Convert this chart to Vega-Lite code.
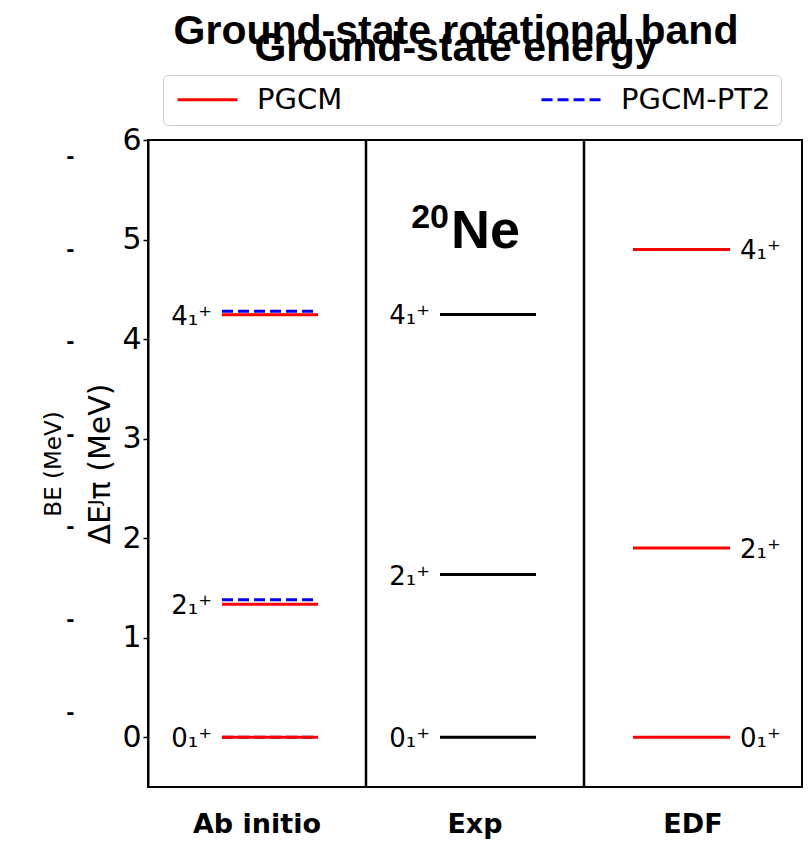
{
  "$schema": "https://vega.github.io/schema/vega-lite/v6.json",
  "width": 654,
  "height": 647,
  "autosize": {"type": "none"},
  "padding": {"left": 148, "top": 140, "right": 6, "bottom": 55},
  "background": "white",
  "config": {
    "view": {"stroke": "black", "strokeWidth": 2},
    "font": "DejaVu Sans"
  },
  "title": {
    "text": "Ground-state rotational band",
    "subtitle": "Ground-state energy",
    "font": "Liberation Sans",
    "fontSize": 41,
    "fontWeight": "bold",
    "color": "black",
    "subtitleFont": "Liberation Sans",
    "subtitleFontSize": 41,
    "subtitleFontWeight": "bold",
    "subtitleColor": "black",
    "subtitlePadding": -24,
    "anchor": "middle",
    "dx": -19,
    "offset": 5
  },
  "datasets": {
    "levels": [
      {"panel": "Ab initio", "method": "PGCM-PT2", "state": "0₁⁺", "energy": 0},
      {"panel": "Ab initio", "method": "PGCM-PT2", "state": "2₁⁺", "energy": 1.38},
      {"panel": "Ab initio", "method": "PGCM-PT2", "state": "4₁⁺", "energy": 4.28},
      {"panel": "Ab initio", "method": "PGCM", "state": "0₁⁺", "energy": 0},
      {"panel": "Ab initio", "method": "PGCM", "state": "2₁⁺", "energy": 1.335},
      {"panel": "Ab initio", "method": "PGCM", "state": "4₁⁺", "energy": 4.245},
      {"panel": "Exp", "method": "Exp", "state": "0₁⁺", "energy": 0},
      {"panel": "Exp", "method": "Exp", "state": "2₁⁺", "energy": 1.634},
      {"panel": "Exp", "method": "Exp", "state": "4₁⁺", "energy": 4.248},
      {"panel": "EDF", "method": "PGCM", "state": "0₁⁺", "energy": 0},
      {"panel": "EDF", "method": "PGCM", "state": "2₁⁺", "energy": 1.9},
      {"panel": "EDF", "method": "PGCM", "state": "4₁⁺", "energy": 4.9}
    ],
    "dividers": [
      {"panel": "Exp"},
      {"panel": "EDF"}
    ]
  },
  "resolve": {"scale": {"y": "independent"}, "axis": {"y": "independent"}},
  "layer": [
    {
      "description": "Binding-energy axis (labels only)",
      "mark": {"type": "point", "opacity": 0},
      "encoding": {
        "y": {
          "datum": 0,
          "type": "quantitative",
          "scale": {"domain": [-0.81, 6.18], "nice": false, "zero": false},
          "axis": {
            "orient": "left",
            "offset": 74,
            "title": "BE (MeV)",
            "titleFont": "DejaVu Sans",
            "titleFontSize": 23,
            "titleFontWeight": "normal",
            "titleColor": "black",
            "titlePadding": 0,
            "titleAnchor": "middle",
            "values": [0, 1, 2, 3, 4, 5, 6],
            "labelExpr": "'-'",
            "labelFontSize": 20,
            "labelFontWeight": "bold",
            "labelColor": "black",
            "labelPadding": 0,
            "ticks": false,
            "domain": false,
            "grid": false
          }
        }
      }
    },
    {
      "encoding": {
        "x": {
          "field": "panel",
          "type": "nominal",
          "sort": ["Ab initio", "Exp", "EDF"],
          "scale": {"type": "band", "domain": ["Ab initio", "Exp", "EDF"], "paddingInner": 0, "paddingOuter": 0},
          "axis": {
            "title": null,
            "ticks": false,
            "domain": false,
            "grid": false,
            "labelAngle": 0,
            "labelFont": "DejaVu Sans",
            "labelFontWeight": "bold",
            "labelFontSize": 27,
            "labelColor": "black",
            "labelPadding": 24
          }
        }
      },
      "layer": [
        {
          "data": {"name": "dividers"},
          "mark": {"type": "rule", "color": "black", "strokeWidth": 2.5},
          "encoding": {
            "x": {"field": "panel", "type": "nominal", "bandPosition": 0}
          }
        },
        {
          "data": {"name": "levels"},
          "transform": [{"filter": "datum.panel !== 'EDF'"}],
          "mark": {"type": "rule", "strokeWidth": 3, "xOffset": -35, "x2Offset": 61},
          "encoding": {
            "x2": {"field": "panel"},
            "y": {
              "field": "energy",
              "type": "quantitative",
              "scale": {"domain": [-0.5, 6], "nice": false, "zero": false},
              "axis": {
                "orient": "left",
                "title": "ΔEᴶπ (MeV)",
                "titleFont": "DejaVu Sans",
                "titleFontSize": 30,
                "titleFontWeight": "normal",
                "titleColor": "black",
                "titlePadding": 6,
                "values": [0, 1, 2, 3, 4, 5, 6],
                "format": "d",
                "grid": false,
                "domainColor": "black",
                "domainWidth": 2,
                "tickColor": "black",
                "tickSize": 5,
                "tickWidth": 1.5,
                "labelFontSize": 30,
                "labelColor": "black",
                "labelPadding": 2
              }
            },
            "color": {
              "field": "method",
              "type": "nominal",
              "scale": {"domain": ["PGCM", "PGCM-PT2", "Exp"], "range": ["#ff0000", "#0000ff", "#000000"]},
              "legend": {
                "title": null,
                "orient": "none",
                "legendX": 15,
                "legendY": -65,
                "direction": "horizontal",
                "columns": 2,
                "columnPadding": 192,
                "values": ["PGCM", "PGCM-PT2"],
                "symbolType": "M-3,0H3",
                "symbolSize": 400,
                "symbolOffset": 20,
                "symbolStrokeWidth": 3,
                "labelFont": "DejaVu Sans",
                "labelFontSize": 29,
                "labelColor": "black",
                "labelOffset": 35,
                "strokeColor": "#cccccc",
                "cornerRadius": 5,
                "padding": 10,
                "fillColor": "white"
              }
            },
            "strokeDash": {
              "field": "method",
              "type": "nominal",
              "scale": {"domain": ["PGCM", "PGCM-PT2", "Exp"], "range": [[1, 0], [11, 5], [1, 0]]},
              "legend": {
                "title": null,
                "orient": "none",
                "legendX": 15,
                "legendY": -65,
                "direction": "horizontal",
                "columns": 2,
                "columnPadding": 192,
                "values": ["PGCM", "PGCM-PT2"],
                "symbolType": "M-3,0H3",
                "symbolSize": 400,
                "symbolOffset": 20,
                "symbolStrokeWidth": 3,
                "labelFont": "DejaVu Sans",
                "labelFontSize": 29,
                "labelColor": "black",
                "labelOffset": 35,
                "strokeColor": "#cccccc",
                "cornerRadius": 5,
                "padding": 10,
                "fillColor": "white"
              }
            }
          }
        },
        {
          "data": {"name": "levels"},
          "transform": [{"filter": "datum.panel === 'EDF'"}],
          "mark": {"type": "rule", "strokeWidth": 3, "xOffset": -60, "x2Offset": 37},
          "encoding": {
            "x2": {"field": "panel"},
            "y": {"field": "energy", "type": "quantitative"},
            "color": {"field": "method", "type": "nominal"},
            "strokeDash": {"field": "method", "type": "nominal"}
          }
        },
        {
          "data": {"name": "levels"},
          "transform": [{"filter": "datum.panel !== 'EDF' && datum.method !== 'PGCM-PT2'"}],
          "mark": {"type": "text", "align": "right", "baseline": "middle", "dx": -45, "dy": 2, "fontSize": 26, "font": "DejaVu Sans", "color": "black"},
          "encoding": {
            "y": {"field": "energy", "type": "quantitative"},
            "text": {"field": "state"}
          }
        },
        {
          "data": {"name": "levels"},
          "transform": [{"filter": "datum.panel === 'EDF'"}],
          "mark": {"type": "text", "align": "left", "baseline": "middle", "dx": 47, "dy": 2, "fontSize": 26, "font": "DejaVu Sans", "color": "black"},
          "encoding": {
            "y": {"field": "energy", "type": "quantitative"},
            "text": {"field": "state"}
          }
        },
        {
          "data": {"values": [{}]},
          "mark": {"type": "text", "text": "20", "align": "right", "baseline": "alphabetic", "dx": -26, "dy": -20, "font": "Liberation Sans", "fontWeight": "bold", "fontSize": 34, "color": "black"},
          "encoding": {
            "x": {"datum": "Exp"},
            "y": {"datum": 4.915, "type": "quantitative"}
          }
        },
        {
          "data": {"values": [{}]},
          "mark": {"type": "text", "text": "Ne", "align": "left", "baseline": "alphabetic", "dx": -24, "font": "Liberation Sans", "fontWeight": "bold", "fontSize": 54, "color": "black"},
          "encoding": {
            "x": {"datum": "Exp"},
            "y": {"datum": 4.915, "type": "quantitative"}
          }
        }
      ]
    }
  ]
}
